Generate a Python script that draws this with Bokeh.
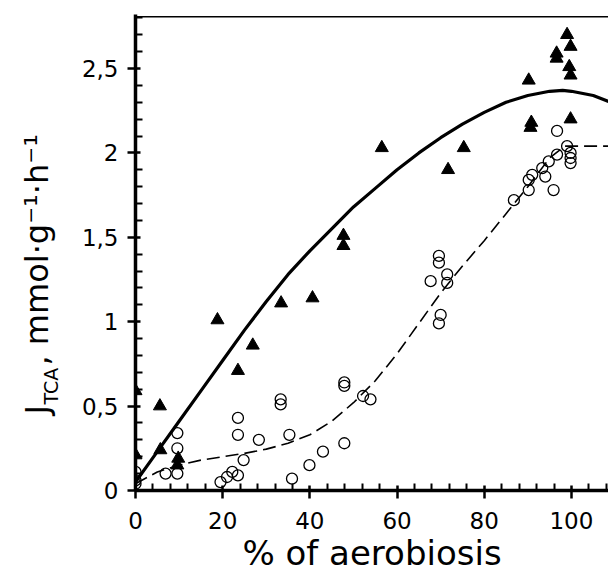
import math
from bokeh.plotting import figure
from bokeh.layouts import row
from bokeh.models import Range1d, FixedTicker, Span, Label
from bokeh.embed import file_html
from bokeh.resources import INLINE

# ---- data ----
tri_x = [0, 0, 5.6, 5.7, 9.8, 9.6, 18.8, 23.5, 26.9, 33.4, 40.6, 47.7, 47.7,
         56.5, 71.7, 75.3, 90.2, 90.8, 90.6, 99.8, 96.6, 96.6, 99.0, 99.8,
         99.5, 99.8]
tri_y = [0.59, 0.21, 0.50, 0.24, 0.19, 0.15, 1.01, 0.71, 0.86, 1.11, 1.14,
         1.51, 1.45, 2.03, 1.90, 2.03, 2.43, 2.18, 2.15, 2.20, 2.59, 2.56,
         2.70, 2.63, 2.51, 2.46]

circ_x = [0, 0, 0, 6.9, 9.6, 9.6, 9.6, 19.5, 21.0, 22.2, 23.5, 23.5, 23.5,
          24.8, 28.3, 33.3, 33.3, 35.3, 35.9, 39.9, 43.0, 47.9, 47.9, 47.9,
          52.2, 53.9, 69.6, 69.6, 71.5, 67.7, 71.5, 70.0, 69.6, 86.8, 90.2,
          90.2, 91.0, 93.3, 94.0, 94.8, 95.9, 96.7, 96.7, 99.0, 99.8, 99.8,
          99.8]
circ_y = [0.11, 0.06, 0.04, 0.10, 0.34, 0.25, 0.10, 0.05, 0.08, 0.11, 0.09,
          0.43, 0.33, 0.18, 0.30, 0.54, 0.51, 0.33, 0.07, 0.15, 0.23, 0.64,
          0.62, 0.28, 0.56, 0.54, 1.39, 1.35, 1.28, 1.24, 1.23, 1.04, 0.99,
          1.72, 1.78, 1.84, 1.87, 1.91, 1.86, 1.95, 1.78, 1.99, 2.13, 2.04,
          2.00, 1.97, 1.94]

solid_x = [0, 5, 10, 15, 20, 25, 30, 35, 40, 45, 50, 55, 60, 65, 70, 75, 80,
           85, 90, 95, 98, 100, 105, 110]
solid_y = [0.05, 0.23, 0.41, 0.59, 0.77, 0.95, 1.12, 1.28, 1.42, 1.55, 1.68,
           1.79, 1.90, 2.00, 2.09, 2.17, 2.24, 2.30, 2.34, 2.365, 2.37, 2.365,
           2.34, 2.29]

dash_x = [0, 5, 10, 15, 20, 25, 30, 35, 40, 45, 50, 55, 60, 65, 70, 75, 80,
          85, 90, 95, 98.5, 105, 110]
dash_y = [0.04, 0.11, 0.15, 0.18, 0.20, 0.22, 0.245, 0.28, 0.33, 0.41, 0.52,
          0.65, 0.81, 0.99, 1.17, 1.33, 1.48, 1.64, 1.80, 1.97, 2.04, 2.04,
          2.04]

x_ticks = [0, 20, 40, 60, 80, 100]
x_minor = [4, 8, 12, 16, 24, 28, 32, 36, 44, 48, 52, 56, 64, 68, 72, 76, 84,
           88, 92, 96, 104, 108]
y_ticks = [0, 0.5, 1, 1.5, 2, 2.5]
y_tick_labels = ["0", "0,5", "1", "1,5", "2", "2,5"]
y_minor = [0.1, 0.2, 0.3, 0.4, 0.6, 0.7, 0.8, 0.9, 1.1, 1.2, 1.3, 1.4, 1.6,
           1.7, 1.8, 1.9, 2.1, 2.2, 2.3, 2.4, 2.6, 2.7, 2.8]

x_title = "% of aerobiosis"
y_title_main = "J"
y_title_sub = "TCA"
y_title_rest = ", mmol·g⁻¹·h⁻¹"

FONT = "DejaVu Sans"
LEFT_W = 60
H = 579
TOP = 14
BOTTOM = 89

# ---- main plot ----
p = figure(width=608 - LEFT_W, height=H, x_range=Range1d(0, 108.5),
           y_range=Range1d(0, 2.82), output_backend="svg",
           toolbar_location=None, min_border_left=135 - LEFT_W,
           min_border_right=0, min_border_top=TOP, min_border_bottom=BOTTOM)
p.outline_line_color = None
p.grid.visible = False

for ax, ticks, minor in ((p.xaxis, x_ticks, x_minor), (p.yaxis, y_ticks, y_minor)):
    ax.ticker = FixedTicker(ticks=ticks, minor_ticks=minor)
    ax.axis_line_width = 3.5
    ax.axis_line_color = "black"
    ax.major_tick_line_width = 2.5
    ax.major_tick_line_color = "black"
    ax.major_tick_in = 5
    ax.major_tick_out = 8
    ax.minor_tick_line_width = 2
    ax.minor_tick_line_color = "black"
    ax.minor_tick_in = 7
    ax.minor_tick_out = 0
    ax.major_label_text_font = FONT
    ax.major_label_text_font_size = "23px"
    ax.major_label_text_color = "black"

p.xaxis.major_label_standoff = 13
p.yaxis.major_label_standoff = 9
p.yaxis.major_label_overrides = {t: s for t, s in zip(y_ticks, y_tick_labels)}

p.xaxis.axis_label = x_title
p.xaxis.axis_label_text_font = FONT
p.xaxis.axis_label_text_font_size = "34px"
p.xaxis.axis_label_text_font_style = "normal"
p.xaxis.axis_label_text_color = "black"
p.xaxis.axis_label_standoff = 1

p.add_layout(Span(location=2.807, dimension="width", line_color="black",
                  line_width=1.5))

p.line(solid_x, solid_y, line_color="black", line_width=3.2)
p.line(dash_x, dash_y, line_color="black", line_width=1.6, line_dash="13 6")
p.scatter(circ_x, circ_y, marker="circle", size=11, fill_color=None,
          line_color="black", line_width=1.3)
p.scatter(tri_x, tri_y, marker="triangle", size=13, fill_color="black",
          line_color="black")

# ---- narrow left panel holding the rotated y-axis title ----
# its frame is aligned with the main frame (pixel rows TOP .. H-BOTTOM),
# so the y range is set so that y = H - pixel_row
lp = figure(width=LEFT_W, height=H, x_range=Range1d(0, LEFT_W),
            y_range=Range1d(BOTTOM, H - TOP), output_backend="svg",
            toolbar_location=None, x_axis_type=None, y_axis_type=None,
            min_border_left=0, min_border_right=0, min_border_top=TOP,
            min_border_bottom=BOTTOM)
lp.outline_line_color = None
lp.grid.visible = False

rot = math.pi / 2
lp.add_layout(Label(x=36, y=165, text=y_title_main, angle=rot,
                    text_align="left", text_baseline="alphabetic",
                    text_font=FONT, text_font_size="32px", text_color="black"))
lp.add_layout(Label(x=50, y=175, text=y_title_sub, angle=rot,
                    text_align="left", text_baseline="alphabetic",
                    text_font=FONT, text_font_size="19px", text_color="black"))
lp.add_layout(Label(x=36, y=214, text=y_title_rest, angle=rot,
                    text_align="left", text_baseline="alphabetic",
                    text_font=FONT, text_font_size="32px", text_color="black"))

layout = row(lp, p, spacing=0)
open("out.html", "w").write(file_html(layout, INLINE))
